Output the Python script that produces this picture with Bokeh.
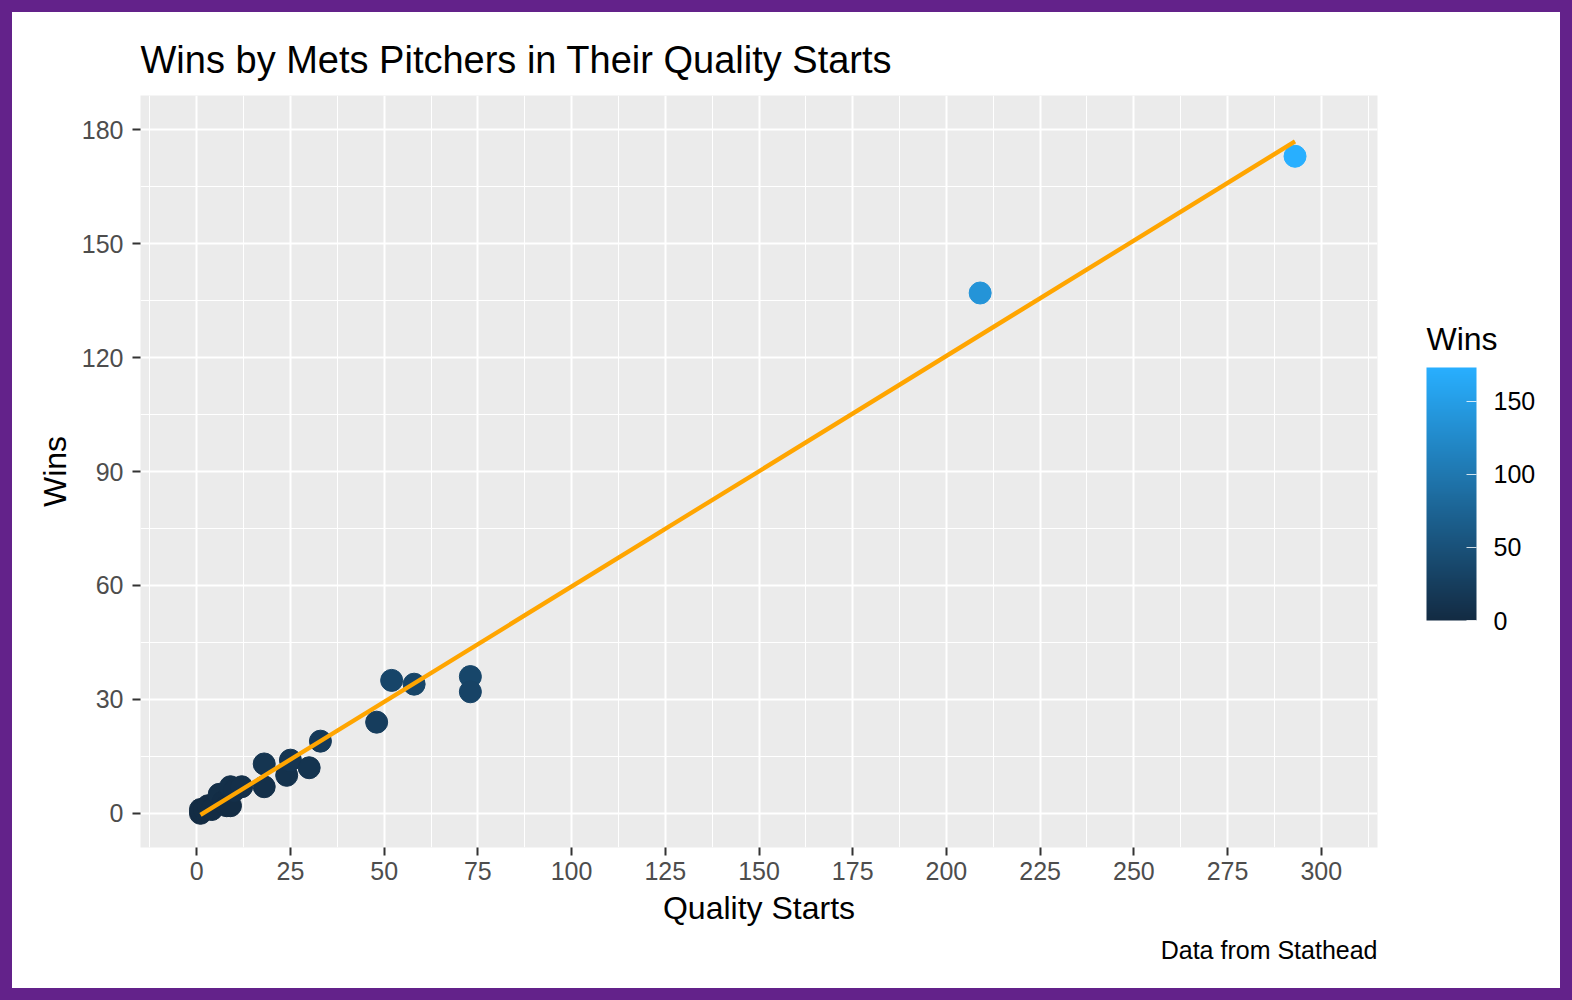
from bokeh.plotting import figure
from bokeh.models import (Range1d, FixedTicker, LinearColorMapper, ColorBar, Title,
                          ColumnDataSource)
from bokeh.embed import file_html
from bokeh.resources import INLINE

# ---- data ----
quality_starts = [1, 1, 2, 3, 4, 6, 7, 8, 9, 9, 10, 12, 18, 18, 24, 25, 30, 33, 48, 52, 58, 73, 73, 209, 293]
wins =           [0, 1, 1, 2, 1, 5, 3, 2, 2, 7, 6,  7, 13, 7,  10, 14, 12, 19, 24, 35, 34, 36, 32, 137, 173]
fit_x = [1, 293]
fit_y = [-0.4, 176.9]
x_breaks = [0, 25, 50, 75, 100, 125, 150, 175, 200, 225, 250, 275, 300]
x_minor = [-12.5, 12.5, 37.5, 62.5, 87.5, 112.5, 137.5, 162.5, 187.5, 212.5, 237.5, 262.5, 287.5, 312.5]
y_breaks = [0, 30, 60, 90, 120, 150, 180]
y_minor = [15, 45, 75, 105, 135, 165]
legend_breaks = [0, 50, 100, 150]

FONT = "Liberation Sans"
LOW = (0x13, 0x2B, 0x43)
HIGH = (0x28, 0xAF, 0xFF)
palette = []
for i in range(256):
    t = i / 255
    palette.append("#%02x%02x%02x" % tuple(int(round(LOW[k] + (HIGH[k] - LOW[k]) * t)) for k in range(3)))

mapper = LinearColorMapper(palette=palette, low=min(wins), high=max(wins))

p = figure(frame_width=1237, frame_height=752,
           min_border_left=128, min_border_right=183, min_border_top=83, min_border_bottom=141,
           x_range=Range1d(-15, 315), y_range=Range1d(-9, 189),
           output_backend="svg", toolbar_location=None,
           title="Wins by Mets Pitchers in Their Quality Starts",
           styles={"transform": "translate(12px, 12px)", "box-shadow": "0 0 0 12px #63228A"})

p.background_fill_color = "#EBEBEB"
p.border_fill_color = "white"
p.outline_line_color = None

p.title.text_font = FONT
p.title.text_font_size = "38px"
p.title.text_font_style = "normal"
p.title.text_color = "black"
p.title.align = "left"
p.title.standoff = 30

p.xaxis.ticker = FixedTicker(ticks=x_breaks, minor_ticks=x_minor)
p.yaxis.ticker = FixedTicker(ticks=y_breaks, minor_ticks=y_minor)

for ax in (p.xaxis[0], p.yaxis[0]):
    ax.axis_line_color = None
    ax.major_tick_line_color = "#333333"
    ax.major_tick_line_width = 2
    ax.major_tick_out = 8
    ax.major_tick_in = 0
    ax.minor_tick_line_color = None
    ax.major_label_text_font = FONT
    ax.major_label_text_font_size = "25px"
    ax.major_label_text_color = "#4D4D4D"
    ax.axis_label_text_font = FONT
    ax.axis_label_text_font_size = "32px"
    ax.axis_label_text_font_style = "normal"
    ax.axis_label_text_color = "black"

p.xaxis.axis_label = "Quality Starts"
p.yaxis.axis_label = "Wins"
p.xaxis.major_label_standoff = 6
p.yaxis.major_label_standoff = 9
p.xaxis.axis_label_standoff = 7
p.yaxis.axis_label_standoff = 6

for g in (p.xgrid[0], p.ygrid[0]):
    g.grid_line_color = "white"
    g.grid_line_width = 2
    g.minor_grid_line_color = "white"
    g.minor_grid_line_width = 1

src = ColumnDataSource(dict(qs=quality_starts, wins=wins))
p.scatter("qs", "wins", source=src, size=22,
          fill_color={"field": "wins", "transform": mapper},
          line_color={"field": "wins", "transform": mapper}, line_width=1)

p.line(fit_x, fit_y, line_color="#FFA500", line_width=4.3)

cb = ColorBar(color_mapper=mapper, ticker=FixedTicker(ticks=legend_breaks),
              width=50, height=253, location=(1276, 217),
              major_label_text_font=FONT, major_label_text_font_size="25px",
              major_label_text_color="black", label_standoff=17,
              major_tick_line_color="white", major_tick_line_alpha=0.8, major_tick_in=10,
              major_tick_out=0, minor_tick_line_color=None, bar_line_color=None,
              background_fill_color=None, border_line_color=None,
              margin=0, padding=10)
p.add_layout(cb, "center")

# horizontal legend title "Wins" (carried by an invisible horizontal colour bar)
cb_title = ColorBar(color_mapper=mapper, orientation="horizontal", ticker=FixedTicker(ticks=[]),
                    width=80, height=1, location=(1286, 490), scale_alpha=0,
                    title="Wins", title_text_font=FONT, title_text_font_size="32px",
                    title_text_font_style="normal", title_text_color="black", title_standoff=0,
                    major_label_text_alpha=0, major_tick_line_color=None,
                    minor_tick_line_color=None, bar_line_color=None,
                    background_fill_color=None, border_line_color=None,
                    margin=0, padding=0)
p.add_layout(cb_title, "center")

cap = Title(text="Data from Stathead", align="right", text_font=FONT, text_font_size="25px",
            text_font_style="normal", text_color="black", standoff=10)
p.add_layout(cap, "below")

open("out.html", "w").write(file_html(p, INLINE))
